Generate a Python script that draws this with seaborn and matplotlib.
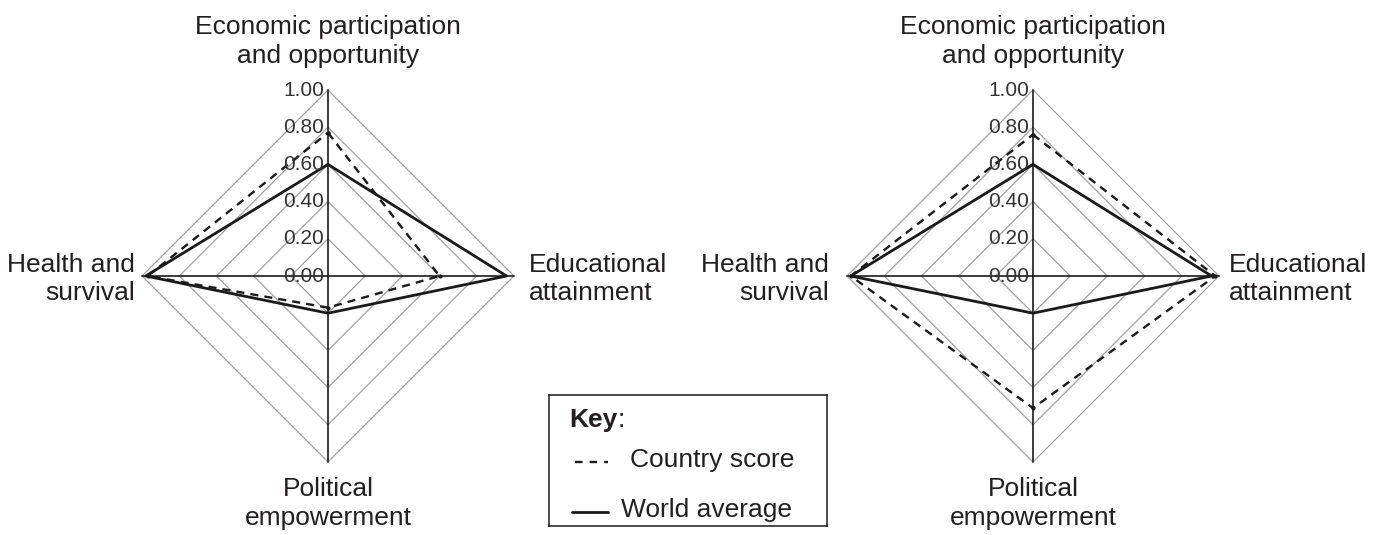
import numpy as np
import pandas as pd
import matplotlib
matplotlib.use('Agg')
import matplotlib.pyplot as plt
import seaborn as sns

sns.set_style('white')
plt.rcParams['font.family'] = ['Liberation Sans', 'DejaVu Sans']

# axes, clockwise from the top
categories = ['Economic participation\nand opportunity', 'Educational\nattainment',
              'Political\nempowerment', 'Health and\nsurvival']
ring_levels = [0.0, 0.2, 0.4, 0.6, 0.8, 1.0]
tick_labels = ['0.00', '0.20', '0.40', '0.60', '0.80', '1.00']

world_average = [0.60, 0.96, 0.20, 0.98]
country_left = [0.77, 0.60, 0.17, 0.97]
country_right = [0.76, 0.98, 0.71, 0.98]

W, H = 1384, 535
R = 186
centers = [(328, 276), (1033, 276)]
ink = '#1a1a1a'
txt = '#231f20'
fs = 19

theta = np.arange(4) * np.pi / 2
theta_closed = np.append(theta, 2 * np.pi)

fig = plt.figure(figsize=(W / 100, H / 100), dpi=100)


def radar(cx, cy, country, health_gap, edu_gap):
    ax = fig.add_axes([(cx - R) / W, (H - cy - R) / H, 2 * R / W, 2 * R / H],
                      projection='polar')
    ax.set_theta_zero_location('N')
    ax.set_theta_direction(-1)
    ax.grid(False)
    ax.spines['polar'].set_visible(False)

    # diamond rings
    for r in ring_levels[1:]:
        ax.plot(theta_closed, [r] * 5, color='#a0a0a0', lw=0.9, clip_on=False, zorder=1)
    # spokes
    for t in theta:
        ax.plot([t, t], [0, 1], color=ink, lw=1.2, clip_on=False, zorder=2)

    df = pd.DataFrame({'theta': theta_closed,
                       'country': country + country[:1],
                       'world': world_average + world_average[:1]})
    sns.lineplot(data=df, x='theta', y='world', sort=False, estimator=None, ax=ax,
                 color=ink, lw=2.0, clip_on=False, zorder=4)
    sns.lineplot(data=df, x='theta', y='country', sort=False, estimator=None, ax=ax,
                 color=ink, lw=1.7, linestyle=(0, (3.4, 2.6)), marker='o',
                 markersize=3, markeredgewidth=0, clip_on=False, zorder=3)

    ax.set_ylim(0, 1)
    ax.set_xticks([])
    ax.set_yticks([])
    ax.set_xlabel('')
    ax.set_ylabel('')

    for r, lab in zip(ring_levels, tick_labels):
        ax.annotate(lab, xy=(0, r), xytext=(-4, 0), textcoords='offset pixels',
                    ha='right', va='center', fontsize=15, color='#333333', zorder=5)

    kw = dict(textcoords='offset pixels', fontsize=fs, color=txt,
              linespacing=1.25, annotation_clip=False)
    ax.annotate(categories[0], xy=(0, 1), xytext=(0, 22), ha='center', va='bottom',
                multialignment='center', **kw)
    ax.annotate(categories[1], xy=(theta[1], 1), xytext=(edu_gap, -3), ha='left',
                va='center', multialignment='left', **kw)
    ax.annotate(categories[2], xy=(theta[2], 1), xytext=(0, -15), ha='center',
                va='top', multialignment='center', **kw)
    ax.annotate(categories[3], xy=(theta[3], 1), xytext=(-health_gap, -3), ha='right',
                va='center', multialignment='right', **kw)
    return ax


radar(*centers[0], country_left, 7, 15)
radar(*centers[1], country_right, 18, 10)

# key box
bx0, by0, bx1, by1 = 549, 395, 827, 526
key = fig.add_axes([bx0 / W, (H - by1) / H, (bx1 - bx0) / W, (by1 - by0) / H])
key.set_xlim(0, bx1 - bx0)
key.set_ylim(by1 - by0, 0)
key.set_xticks([])
key.set_yticks([])
for s in key.spines.values():
    s.set_visible(True)
    s.set_color(ink)
    s.set_linewidth(1.1)

k = key.text(20, 32, 'Key', fontsize=fs, fontweight='bold', color=txt, va='baseline')
key.annotate(':', xy=(1, 0), xycoords=k, va='bottom', ha='left', fontsize=fs, color=txt)
key.plot([26, 59], [67, 67], color=ink, lw=1.7, linestyle=(0, (3.2, 3.0)))
key.text(81, 72, 'Country score', fontsize=fs, color=txt, va='baseline')
key.plot([23, 59], [117, 117], color=ink, lw=2.0)
key.text(72, 122, 'World average', fontsize=fs, color=txt, va='baseline')

fig.savefig('out.png', dpi=100)
